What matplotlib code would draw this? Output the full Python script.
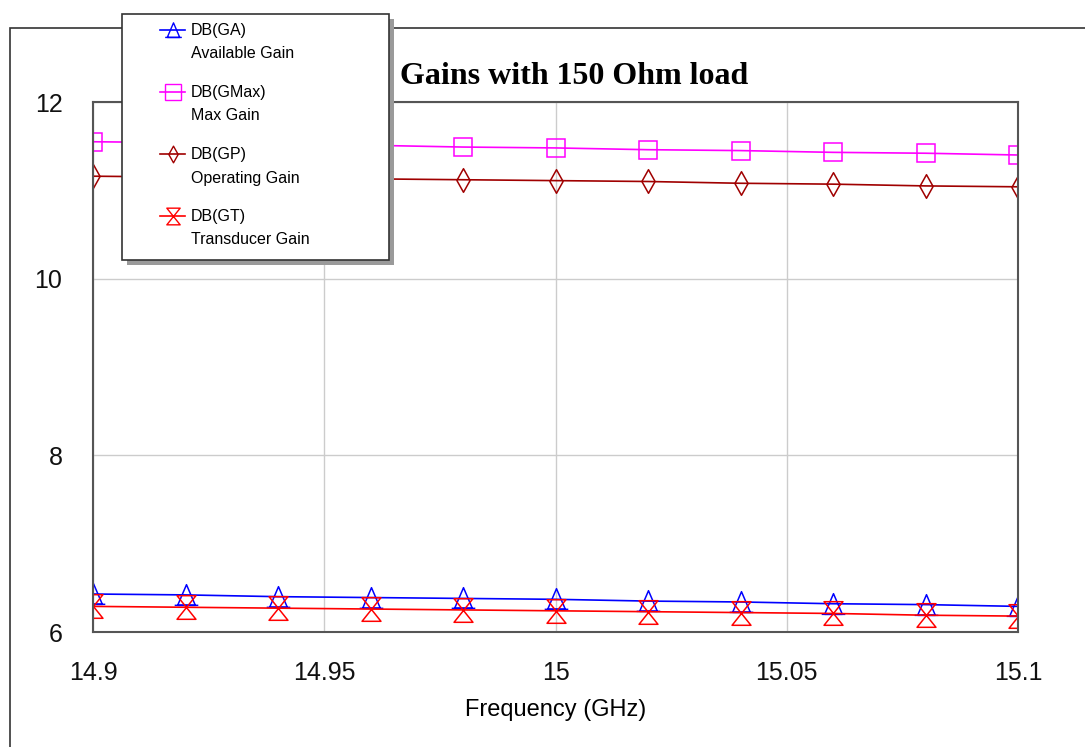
import numpy as np
import matplotlib
matplotlib.use('Agg')
import matplotlib.pyplot as plt
from matplotlib.path import Path
from matplotlib.lines import Line2D
from matplotlib.patches import Rectangle

# data
freq = [14.9, 14.92, 14.94, 14.96, 14.98, 15.0, 15.02, 15.04, 15.06, 15.08, 15.1]
db_ga = [6.43, 6.42, 6.40, 6.39, 6.38, 6.37, 6.35, 6.34, 6.32, 6.31, 6.29]
db_gmax = [11.55, 11.54, 11.52, 11.51, 11.49, 11.48, 11.46, 11.45, 11.43, 11.42, 11.40]
db_gp = [11.16, 11.15, 11.14, 11.13, 11.12, 11.11, 11.10, 11.08, 11.07, 11.05, 11.04]
db_gt = [6.29, 6.28, 6.27, 6.26, 6.25, 6.24, 6.23, 6.22, 6.21, 6.19, 6.18]

names = ["DB(GA)", "DB(GMax)", "DB(GP)", "DB(GT)"]
descs = ["Available Gain", "Max Gain", "Operating Gain", "Transducer Gain"]
colors = ["#0000ff", "#ff00ff", "#a00000", "#ff0000"]

# custom markers
tri = Path([(-0.45, -0.5), (0, 0.55), (0.45, -0.5), (-0.45, -0.5),
            (-0.6, -0.5), (0.6, -0.5)],
           [Path.MOVETO, Path.LINETO, Path.LINETO, Path.LINETO,
            Path.MOVETO, Path.LINETO])
diamond = Path([(0, 0.5), (0.28, 0), (0, -0.5), (-0.28, 0), (0, 0.5)],
               [Path.MOVETO, Path.LINETO, Path.LINETO, Path.LINETO, Path.CLOSEPOLY])
hourglass = Path([(-0.4, 0.5), (0.4, 0.5), (-0.4, -0.5), (0.4, -0.5), (-0.4, 0.5)],
                 [Path.MOVETO, Path.LINETO, Path.LINETO, Path.LINETO, Path.CLOSEPOLY])
markers = [tri, 's', diamond, hourglass]
msizes = [17, 13, 17, 17]

plt.rcParams['font.family'] = ['Liberation Sans', 'DejaVu Sans']

W, H = 1085, 747
fig = plt.figure(figsize=(W / 100, H / 100), dpi=100)

# outer frame
fig.add_artist(Rectangle((10 / W, -0.1), 1.2, 1 - 28 / H + 0.1, transform=fig.transFigure,
                         fill=False, edgecolor='#333333', linewidth=1.2))

ax = fig.add_axes([93 / W, (H - 632) / H, (1018 - 93) / W, (632 - 102) / H])
series = [db_ga, db_gmax, db_gp, db_gt]
for vals, c, m, ms in zip(series, colors, markers, msizes):
    ax.plot(freq, vals, color=c, linewidth=1.2, marker=m, markersize=ms,
            markerfacecolor='none', markeredgecolor=c, markeredgewidth=1.1)

ax.set_xlim(14.9, 15.1)
ax.set_ylim(6, 12)
ax.set_xticks([14.9, 14.95, 15.0, 15.05, 15.1])
ax.set_xticklabels(["14.9", "14.95", "15", "15.05", "15.1"])
ax.set_yticks([6, 8, 10, 12])
ax.grid(True, color='#cccccc', linewidth=1.0)
ax.tick_params(length=0, labelsize=18, colors='#111111')
ax.tick_params(axis='y', pad=22)
ax.tick_params(axis='x', pad=21)
for s in ax.spines.values():
    s.set_color('#555555')
    s.set_linewidth(1.5)
ax.set_xlabel("Frequency (GHz)", fontsize=17, labelpad=10)

fig.text(574 / W, 1 - 76 / H, "Gains with 150 Ohm load", ha='center', va='center',
         fontsize=23, fontweight='bold', family=['Liberation Serif', 'DejaVu Serif'])

# legend box drawn by hand
lx0, lx1, ly0, ly1 = 122, 389, 14, 260
fig.add_artist(Rectangle(((lx0 + 5) / W, 1 - (ly1 + 5) / H), (lx1 - lx0) / W, (ly1 - ly0) / H,
                         transform=fig.transFigure, facecolor='#9a9a9a', edgecolor='none', zorder=9))
fig.add_artist(Rectangle((lx0 / W, 1 - ly1 / H), (lx1 - lx0) / W, (ly1 - ly0) / H,
                         transform=fig.transFigure, facecolor='white', edgecolor='#333333',
                         linewidth=1.2, zorder=10))
for i, (n, d, c, m) in enumerate(zip(names, descs, colors, markers)):
    y1 = 30 + i * 62
    fig.add_artist(Line2D([160 / W, 185 / W], [1 - y1 / H, 1 - y1 / H], transform=fig.transFigure,
                          color=c, linewidth=1.2, zorder=11))
    fig.add_artist(Line2D([172.5 / W], [1 - y1 / H], transform=fig.transFigure, color=c,
                          marker=m, markersize=12, markerfacecolor='none', markeredgewidth=1.0,
                          zorder=11))
    fig.text(191 / W, 1 - y1 / H, n, fontsize=11.5, va='center', ha='left', zorder=12)
    fig.text(191 / W, 1 - (y1 + 24) / H, d, fontsize=11.5, va='center', ha='left', zorder=12)

fig.savefig('out.png', dpi=100)
